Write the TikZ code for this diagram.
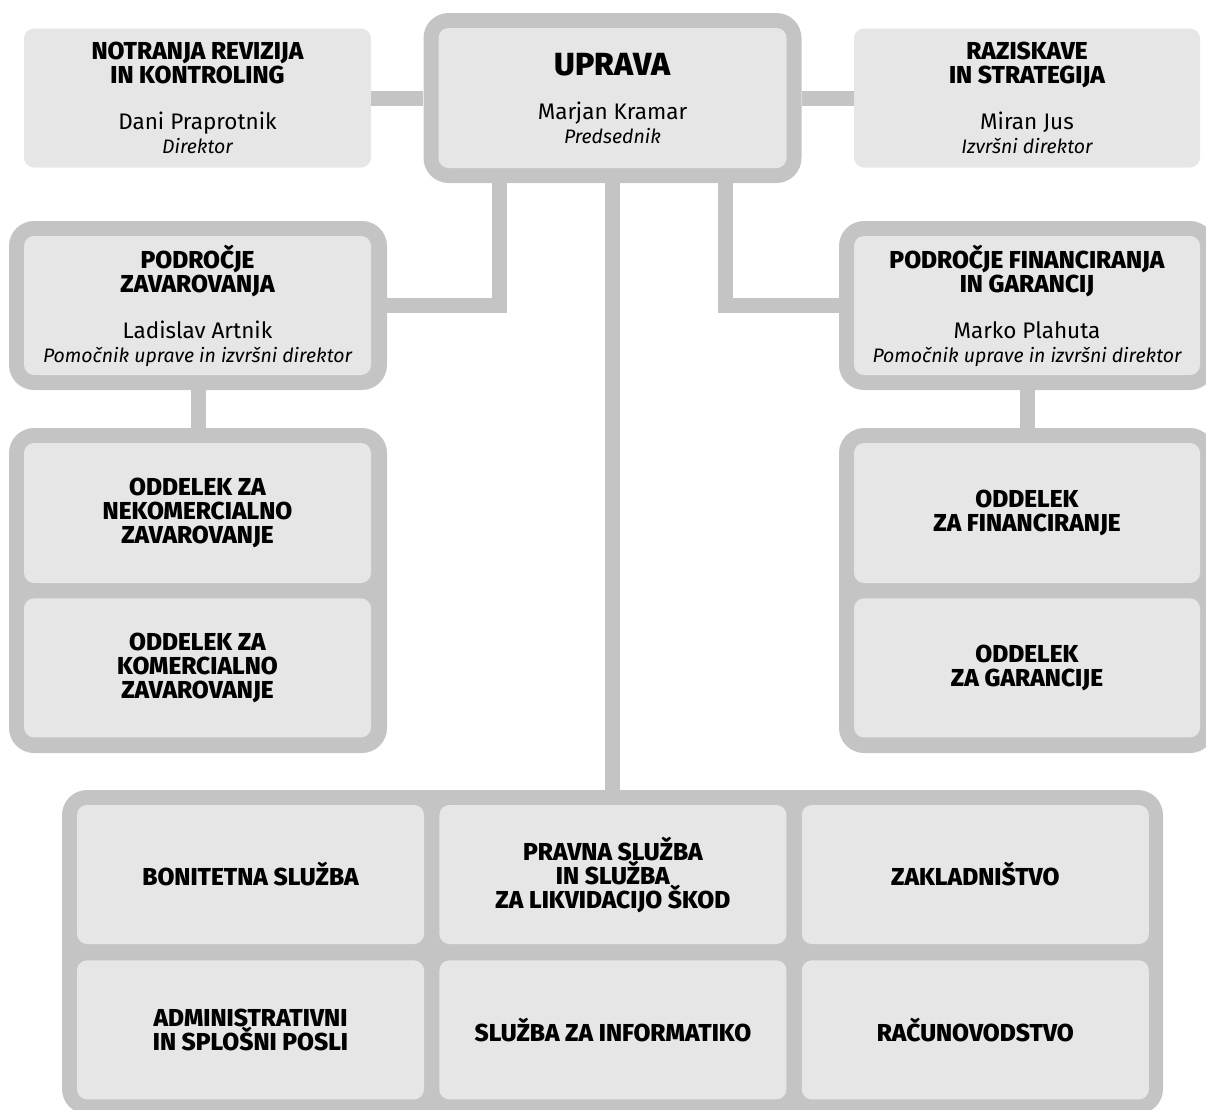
\documentclass[tikz,border=0pt]{standalone}
\usepackage{fontspec}
\setmainfont{Fira Sans}
\IfFontExistsTF{Fira Sans ExtraBold}
  {\newfontfamily\tezka{Fira Sans ExtraBold}}
  {\newfontfamily\tezka{Fira Sans}[UprightFont=*-Bold]}
\usetikzlibrary{positioning}
\usepackage{xcolor}
\definecolor{okvir}{HTML}{C4C4C4}
\definecolor{polnilo}{HTML}{E6E6E6}
\newcommand{\naslov}{\fontsize{24.5}{24}\selectfont\tezka}
\newcommand{\ime}{\fontsize{22.5}{21}\selectfont\normalfont\fontsize{22.5}{21}\selectfont}
\newcommand{\funkcija}{\fontsize{19.5}{21}\selectfont\normalfont\fontsize{19.5}{21}\selectfont\itshape}

\begin{document}
\begin{tikzpicture}[x=1pt, y=-1pt,
okvirnode/.style={rectangle, fill=okvir, rounded corners=25pt, inner sep=0pt},
polninode/.style={rectangle, fill=polnilo, rounded corners=10pt, inner sep=0pt, align=center, font=\naslov, minimum width=347pt, minimum height=139pt},
povezava/.style={draw=okvir, line width=15pt},
]
\useasboundingbox (0,0) rectangle (1206,1109);

%Okvirji
\node[okvirnode, minimum width=378pt, minimum height=170pt] (okvirUprava) at (612.5,98) {};
\node[okvirnode, minimum width=378pt, minimum height=169pt] (okvirZavarovanje) at (198,305.5) {};
\node[okvirnode, minimum width=376pt, minimum height=169pt] (okvirFinanciranje) at (1027,305.5) {};
\node[okvirnode, minimum width=378pt, minimum height=325pt] (okvirLevo) at (198,590.5) {};
\node[okvirnode, minimum width=376pt, minimum height=325pt] (okvirDesno) at (1027,590.5) {};
\node[okvirnode, minimum width=1101pt, minimum height=324pt] (okvirSpodaj) at (612.5,952) {};

%Nodes
%%% Zgornja vrsta
\node[polninode] (revizija) at (197.5,98) {NOTRANJA REVIZIJA\\IN KONTROLING\\[22pt]{\ime Dani Praprotnik}\\{\funkcija Direktor}};
\node[polninode, minimum width=348pt, minimum height=140pt] (uprava) at (612.5,98) {{\fontsize{32}{34}\selectfont UPRAVA}\\[20pt]{\ime Marjan Kramar}\\{\funkcija Predsednik}};
\node[polninode, minimum width=346pt] (raziskave) at (1027,98) {RAZISKAVE\\IN STRATEGIJA\\[22pt]{\ime Miran Jus}\\{\funkcija Izvršni direktor}};

%%% Podrocji
\node[polninode] (zavarovanje) at (197.5,305.5) {PODROČJE\\ZAVAROVANJA\\[22pt]{\ime Ladislav Artnik}\\{\funkcija Pomočnik uprave in izvršni direktor}};
\node[polninode, minimum width=346pt] (financiranje) at (1027,305.5) {PODROČJE FINANCIRANJA\\IN GARANCIJ\\[22pt]{\ime Marko Plahuta}\\{\funkcija Pomočnik uprave in izvršni direktor}};

%%% Oddelki
\node[polninode, minimum height=140pt] (nekomercialno) at (197.5,513) {ODDELEK ZA\\NEKOMERCIALNO\\ZAVAROVANJE};
\node[polninode] (komercialno) [below=15pt of nekomercialno] {ODDELEK ZA\\KOMERCIALNO\\ZAVAROVANJE};
\node[polninode, minimum width=346pt, minimum height=140pt] (oddFinanciranje) at (1027,513) {ODDELEK\\ZA FINANCIRANJE};
\node[polninode, minimum width=346pt] (oddGarancije) [below=15pt of oddFinanciranje] {ODDELEK\\ZA GARANCIJE};

%%% Sluzbe
\node[polninode] (bonitetna) at (250.5,874.5) {BONITETNA SLUŽBA};
\node[polninode] (pravna) [right=15pt of bonitetna] {PRAVNA SLUŽBA\\IN SLUŽBA\\ZA LIKVIDACIJO ŠKOD};
\node[polninode] (zakladnistvo) [right=15pt of pravna] {ZAKLADNIŠTVO};
\node[polninode] (administrativni) [below=16pt of bonitetna] {ADMINISTRATIVNI\\IN SPLOŠNI POSLI};
\node[polninode] (informatika) [below=16pt of pravna] {SLUŽBA ZA INFORMATIKO};
\node[polninode] (racunovodstvo) [below=16pt of zakladnistvo] {RAČUNOVODSTVO};

%Lines
\draw[povezava] (revizija.east) -- (okvirUprava.west);
\draw[povezava] (okvirUprava.east) -- (raziskave.west);
\draw[povezava] ([xshift=-113.5pt]okvirUprava.south) |- (okvirZavarovanje.east);
\draw[povezava] ([xshift=112.5pt]okvirUprava.south) |- (okvirFinanciranje.west);
\draw[povezava] (okvirUprava.south) -- (okvirSpodaj.north);
\draw[povezava] (okvirZavarovanje.south) -- (okvirLevo.north);
\draw[povezava] (okvirFinanciranje.south) -- (okvirDesno.north);

\end{tikzpicture}
\end{document}
